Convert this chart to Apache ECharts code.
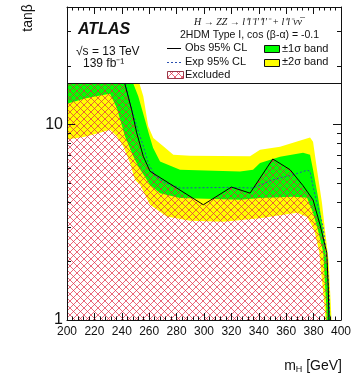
<!DOCTYPE html>
<html>
<head>
<meta charset="utf-8">
<script src="https://cdn.jsdelivr.net/npm/echarts@6/dist/echarts.min.js"></script>
<style>
  html, body { margin: 0; padding: 0; background: #fff; }
  #chart { width: 362px; height: 378px; }
</style>
</head>
<body>
<div id="chart"></div>
<script>
// Axis ticks
const massTicks = [200, 220, 240, 260, 280, 300, 320, 340, 360, 380, 400];
const tanbLabels = [1, 10];
const tanbMinorTicks = [2, 3, 4, 5, 6, 7, 8, 9, 20, 30, 40];

// Limit curves as [m_H (GeV), tanβ] points
const observed = [
  [200, 35], [235, 32], [240, 20], [242.3, 16.1], [247.2, 11.9], [250.9, 9.07],
  [255.7, 6.88], [260.6, 5.77], [299.5, 3.89], [320, 4.79], [333.6, 4.46],
  [350.2, 6.67], [362.8, 5.88], [372.3, 4.87], [379.6, 4.12], [384.7, 3.07],
  [389.6, 2.21], [390.7, 1.48], [391.2, 1.0]
];
const expected = [
  [200, 22], [230, 23], [238, 20], [242.3, 16.6], [246, 12.9], [250.9, 9.8],
  [255.7, 7.76], [259.3, 6.36], [264.2, 5.48], [271.5, 5.04], [282.5, 4.74],
  [319, 4.77], [335.8, 4.74], [350.4, 5.22], [365, 5.54], [375.2, 5.84],
  [377.4, 5.77], [379.6, 4.81], [383.2, 3.80], [386.9, 3.00], [389.8, 2.03],
  [391.5, 1.27], [391.8, 1.0]
];
const plus1Sigma = [
  [200, 40], [244, 40], [247.2, 17.0], [252.0, 13.97], [256.9, 10.6], [259.9, 8.89],
  [262.8, 7.62], [267.9, 6.48], [282.5, 5.88], [326.3, 5.76], [335.8, 5.88],
  [340.9, 6.36], [355.5, 6.85], [372.3, 7.18], [377.4, 7.02], [379.6, 5.88],
  [383.2, 4.27], [386.9, 2.89], [390.1, 1.80], [392.3, 1.0]
];
const minus1Sigma = [
  [200, 12.8], [213.1, 13.6], [224.1, 14.1], [231.4, 14.4], [236.3, 12.2],
  [242.3, 8.71], [248.4, 6.88], [252.0, 6.1], [260.6, 4.92], [267.9, 4.46],
  [282.5, 4.21], [326.3, 4.12], [340.9, 4.21], [365, 4.27], [375.2, 4.22],
  [379.6, 3.54], [383.2, 2.89], [387.1, 2.21], [389.1, 1.22], [389.6, 1.0]
];
const plus2Sigma = [
  [200, 40], [249, 40], [252.0, 17.0], [255.7, 13.97], [259.3, 9.80], [263.0, 8.55],
  [270.3, 7.74], [277.6, 7.02], [289.8, 6.93], [333.6, 6.89], [340.9, 7.44],
  [355.5, 7.71], [377.4, 8.58], [379.6, 8.18], [382.5, 5.88], [386.1, 3.98],
  [388.3, 2.89], [390.9, 2.03], [393.1, 1.0]
];
const minus2Sigma = [
  [200, 8.38], [213.1, 8.67], [224.1, 9.10], [231.4, 9.42], [236.3, 8.71],
  [241.1, 7.74], [246.0, 6.36], [249.6, 5.22], [253.3, 4.92], [260.6, 3.89],
  [272.8, 3.39], [289.8, 3.22], [314.1, 3.18], [340.9, 3.32], [367.9, 3.54],
  [375.2, 3.37], [380.5, 2.89], [384.2, 2.21], [386.1, 1.60], [387.8, 1.22],
  [388.7, 1.0]
];

// Cross-hatch tile used for the excluded region
function makeHatch(size, color) {
  const c = document.createElement('canvas');
  c.width = size; c.height = size;
  const g = c.getContext('2d');
  g.strokeStyle = color;
  g.lineWidth = 1;
  for (const k of [-size, 0, size]) {
    g.beginPath(); g.moveTo(k, 0); g.lineTo(k + size, size); g.stroke();
    g.beginPath(); g.moveTo(k + size, 0); g.lineTo(k, size); g.stroke();
  }
  return c;
}
const hatchTile = makeHatch(7, 'rgba(225,40,65,0.7)');
const hatchFill = { image: hatchTile, repeat: 'repeat' };

// Closed polygon between an upper and a lower curve
function bandSeries(upper, lower, color, z) {
  return {
    type: 'custom', xAxisIndex: 0, yAxisIndex: 0, z: z, clip: true, silent: true,
    data: [0],
    renderItem: function (params, api) {
      const pts = upper.map(p => api.coord(p))
        .concat(lower.slice().reverse().map(p => api.coord(p)));
      return { type: 'polygon', shape: { points: pts }, style: { fill: color } };
    }
  };
}

// Excluded region: everything below the observed limit
function excludedSeries(z) {
  return {
    type: 'custom', xAxisIndex: 0, yAxisIndex: 0, z: z, clip: true, silent: true,
    data: [0],
    renderItem: function (params, api) {
      const last = observed[observed.length - 1];
      const pts = observed.map(p => api.coord(p))
        .concat([api.coord([last[0], 1]), api.coord([observed[0][0], 1])]);
      return { type: 'polygon', shape: { points: pts }, style: { fill: hatchFill } };
    }
  };
}

const axisColor = '#111';
const textFont = 'Liberation Sans, Arial, sans-serif';

function massAxis(pos, showLabels) {
  return {
    type: 'value', position: pos, min: 200, max: 400, interval: 20, z: 60,
    axisLine: { show: true, onZero: false, lineStyle: { color: axisColor, width: 1 } },
    axisTick: { show: true, inside: true, length: 7, lineStyle: { color: axisColor } },
    minorTick: { show: true, splitNumber: 5, length: 3.5, lineStyle: { color: axisColor } },
    axisLabel: {
      show: showLabels, fontSize: 12, color: axisColor, margin: 6, fontFamily: textFont,
      customValues: massTicks
    },
    splitLine: { show: false }, minorSplitLine: { show: false }
  };
}
function tanbAxis(pos, ticks, len, showLabels) {
  return {
    type: 'log', logBase: 10, position: pos, min: 1, max: 40, z: 60,
    axisLine: { show: showLabels !== null, onZero: false, lineStyle: { color: axisColor, width: 1 } },
    axisTick: { show: true, inside: true, length: len, customValues: ticks, lineStyle: { color: axisColor } },
    axisLabel: {
      show: !!showLabels, customValues: tanbLabels, fontSize: 16, color: axisColor,
      margin: 4, fontFamily: textFont
    },
    splitLine: { show: false }
  };
}

const chart = echarts.init(document.getElementById('chart'), null, { renderer: 'canvas' });

const txt = (x, y, text, extra, rotation) => ({
  type: 'text', x: x, y: y, z: 70, rotation: rotation || 0,
  style: Object.assign({
    text: text, fill: '#111', font: '11px ' + textFont,
    textAlign: 'left', textVerticalAlign: 'middle'
  }, extra || {})
});

chart.setOption({
  animation: false,
  backgroundColor: '#fff',
  grid: { left: 67, right: 21, top: 7, bottom: 58 },
  xAxis: [massAxis('bottom', true), massAxis('top', false)],
  yAxis: [
    tanbAxis('left', tanbLabels, 8, true),
    tanbAxis('left', tanbMinorTicks, 4, null),
    tanbAxis('right', tanbLabels, 8, false),
    tanbAxis('right', tanbMinorTicks, 4, null)
  ],
  series: [
    bandSeries(plus2Sigma, minus2Sigma, '#ffff00', 2),
    bandSeries(plus1Sigma, minus1Sigma, '#00ff00', 3),
    excludedSeries(4),
    {
      type: 'line', xAxisIndex: 0, yAxisIndex: 0, data: expected, z: 5,
      showSymbol: false, smooth: false, silent: true,
      lineStyle: { color: '#2a4fb0', width: 1, type: [2, 2] }
    },
    {
      type: 'line', xAxisIndex: 0, yAxisIndex: 0, data: observed, z: 6,
      showSymbol: false, smooth: false, silent: true,
      lineStyle: { color: '#000', width: 1 }
    }
  ],
  graphic: [
    // legend panel at the top of the frame
    { type: 'rect', z: 50, shape: { x: 67, y: 7, width: 274, height: 76 }, style: { fill: '#fff' } },
    { type: 'line', z: 51, shape: { x1: 67, y1: 83.5, x2: 341, y2: 83.5 }, style: { stroke: '#111', lineWidth: 1 } },

    txt(78, 30, 'ATLAS', { font: 'italic bold 16px ' + textFont }),
    txt(76, 52, '\u221As = 13 TeV', { font: '12px ' + textFont }),
    txt(83, 64, '139 fb\u207B\u00B9', { font: '12px ' + textFont }),
    txt(248, 22, 'H \u2192 ZZ \u2192 l\u207Al\u207Bl\u2032\u207Al\u2032\u207B + l\u207Al\u207B\u03BD\u03BD\u0305',
      { font: 'italic 10px Liberation Serif, serif', textAlign: 'center' }),
    txt(180, 35, '2HDM Type I, cos (\u03B2-\u03B1) = -0.1', { font: '10.5px ' + textFont }),

    { type: 'line', z: 70, shape: { x1: 167, y1: 48.5, x2: 181, y2: 48.5 }, style: { stroke: '#000', lineWidth: 1 } },
    txt(185, 48, 'Obs 95% CL'),
    { type: 'line', z: 70, shape: { x1: 167, y1: 62.5, x2: 181, y2: 62.5 }, style: { stroke: '#2a4fb0', lineWidth: 1, lineDash: [2, 2] } },
    txt(185, 62, 'Exp 95% CL'),
    { type: 'rect', z: 70, shape: { x: 167.5, y: 71.5, width: 16, height: 7 }, style: { fill: hatchFill, stroke: '#9a3a4a', lineWidth: 1 } },
    txt(185, 75, 'Excluded'),
    { type: 'rect', z: 70, shape: { x: 264.5, y: 45.5, width: 15, height: 7 }, style: { fill: '#00ff00', stroke: '#111', lineWidth: 1 } },
    txt(282, 49, '\u00B11\u03C3 band'),
    { type: 'rect', z: 70, shape: { x: 264.5, y: 59.5, width: 15, height: 7 }, style: { fill: '#ffff00', stroke: '#111', lineWidth: 1 } },
    txt(282, 62, '\u00B12\u03C3 band'),

    // axis titles
    txt(28, 18, 'tan\u03B2', { font: '14px ' + textFont, textAlign: 'center' }, Math.PI / 2),
    {
      type: 'text', z: 70, x: 342, y: 366,
      style: {
        text: '{m|m}{s|H}{m| [GeV]}', textAlign: 'right', textVerticalAlign: 'middle', fill: '#111',
        rich: {
          m: { fontSize: 14, fontFamily: textFont, fill: '#111' },
          s: { fontSize: 9, fontFamily: textFont, fill: '#111', padding: [8, 0, 0, 0] }
        }
      }
    }
  ]
});
</script>
</body>
</html>
